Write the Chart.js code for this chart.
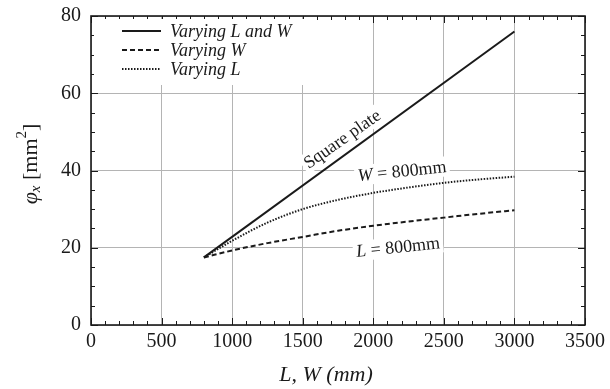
<!DOCTYPE html>
<html lang="en">
<head>
<meta charset="UTF-8">
<title>phi_x vs L, W</title>
<script src="https://cdn.jsdelivr.net/npm/chart.js"></script>
<style>
    * { margin: 0; padding: 0; box-sizing: border-box; }
    body { background: #fff; width: 610px; height: 389px; overflow: hidden; }
    .chart-box { position: relative; width: 610px; height: 389px; }
</style>
</head>
<body>
<div class="chart-box">
    <canvas id="phiChart" width="610" height="389"></canvas>
</div>
<script>
// data
const squareL = [800, 3000];
const squarePhi = [17.5, 76.0];

const sizes = [800, 1000, 1250, 1500, 1750, 2000, 2250, 2500, 2750, 3000];
const varyWPhi = [17.5, 19.3, 21.2, 22.8, 24.4, 25.7, 26.8, 27.8, 28.8, 29.7];
const varyLPhi = [17.5, 21.8, 26.5, 30.0, 32.4, 34.2, 35.6, 36.8, 37.7, 38.4];

const xTicks = [0, 500, 1000, 1500, 2000, 2500, 3000, 3500];
const yTicks = [0, 20, 40, 60, 80];

const legendLabels = ['Varying L and W', 'Varying W', 'Varying L'];

const SERIF = '"Liberation Serif", "DejaVu Serif", serif';
const INK = '#1a1a1a';

function pts(xs, ys) {
    return xs.map((x, i) => ({ x: x, y: ys[i] }));
}

// frame, minor ticks, legend, notes, axis titles
const decorations = {
    id: 'decorations',
    afterDraw(chart) {
        const ctx = chart.ctx;
        const a = chart.chartArea;
        const xs = chart.scales.x, ys = chart.scales.y;
        ctx.save();

        // ticks pointing inwards
        ctx.strokeStyle = INK;
        ctx.lineWidth = 1;
        ctx.beginPath();
        for (let v = 0; v <= 3500; v += 100) {
            const px = Math.round(xs.getPixelForValue(v)) + 0.5;
            const len = v % 500 === 0 ? 7 : 4;
            ctx.moveTo(px, a.bottom); ctx.lineTo(px, a.bottom - len);
            ctx.moveTo(px, a.top); ctx.lineTo(px, a.top + len);
        }
        for (let v = 0; v <= 80; v += 5) {
            const py = Math.round(ys.getPixelForValue(v)) + 0.5;
            const len = v % 20 === 0 ? 7 : 4;
            ctx.moveTo(a.left, py); ctx.lineTo(a.left + len, py);
            ctx.moveTo(a.right, py); ctx.lineTo(a.right - len, py);
        }
        ctx.stroke();

        // frame
        ctx.lineWidth = 1.6;
        ctx.strokeRect(a.left, a.top, a.right - a.left, a.bottom - a.top);

        // legend
        ctx.fillStyle = '#fff';
        ctx.fillRect(a.left + 3, a.top + 3, 212, 66);
        const dashes = [[], [5, 3], [1.5, 1.5]];
        ctx.font = 'italic 18px ' + SERIF;
        ctx.textBaseline = 'middle';
        legendLabels.forEach((txt, i) => {
            const y = a.top + 15 + i * 19;
            ctx.setLineDash(dashes[i]);
            ctx.lineWidth = 1.8;
            ctx.strokeStyle = INK;
            ctx.beginPath();
            ctx.moveTo(a.left + 31, y); ctx.lineTo(a.left + 70, y);
            ctx.stroke();
            ctx.fillStyle = INK;
            ctx.fillText(txt, a.left + 79, y + 1);
        });
        ctx.setLineDash([]);

        // notes on the curves
        function note(cx, cy, angle, pieces) {
            ctx.save();
            ctx.translate(cx, cy);
            ctx.rotate(angle * Math.PI / 180);
            let w = 0;
            pieces.forEach(p => { ctx.font = p[1] + ' 18px ' + SERIF; w += ctx.measureText(p[0]).width; });
            ctx.fillStyle = '#fff';
            ctx.fillRect(-w / 2 - 3, -10, w + 6, 20);
            let x = -w / 2;
            ctx.fillStyle = INK;
            ctx.textBaseline = 'middle';
            pieces.forEach(p => {
                ctx.font = p[1] + ' 18px ' + SERIF;
                ctx.fillText(p[0], x, 1);
                x += ctx.measureText(p[0]).width;
            });
            ctx.restore();
        }
        note(342, 139, -35, [['Square plate', 'normal']]);
        note(402, 171, -6, [['W', 'italic'], [' = 800mm', 'normal']]);
        note(398, 247, -6, [['L', 'italic'], [' = 800mm', 'normal']]);

        // x axis title
        ctx.fillStyle = INK;
        ctx.font = 'italic 22px ' + SERIF;
        ctx.textAlign = 'center';
        ctx.textBaseline = 'alphabetic';
        ctx.fillText('L, W (mm)', 326, 381);

        // y axis title with sub / superscript
        ctx.save();
        ctx.translate(31, 164);
        ctx.rotate(-Math.PI / 2);
        const parts = [
            ['\u03C6', 'italic 22px', 0],
            ['x', 'italic 15px', 5],
            [' [mm', 'normal 22px', 0],
            ['2', 'normal 15px', -9],
            [']', 'normal 22px', 0]
        ];
        let tw = 0;
        parts.forEach(p => { ctx.font = p[1] + ' ' + SERIF; tw += ctx.measureText(p[0]).width; });
        let x = -tw / 2;
        ctx.textAlign = 'left';
        ctx.textBaseline = 'middle';
        parts.forEach(p => {
            ctx.font = p[1] + ' ' + SERIF;
            ctx.fillText(p[0], x, p[2]);
            x += ctx.measureText(p[0]).width;
        });
        ctx.restore();

        ctx.restore();
    }
};

new Chart(document.getElementById('phiChart'), {
    type: 'line',
    data: {
        datasets: [
            {
                label: legendLabels[0],
                data: pts(squareL, squarePhi),
                borderColor: INK,
                borderWidth: 2,
                pointRadius: 0,
                tension: 0
            },
            {
                label: legendLabels[1],
                data: pts(sizes, varyWPhi),
                borderColor: INK,
                borderWidth: 2,
                borderDash: [5, 3],
                pointRadius: 0,
                cubicInterpolationMode: 'monotone'
            },
            {
                label: legendLabels[2],
                data: pts(sizes, varyLPhi),
                borderColor: INK,
                borderWidth: 2,
                borderDash: [1.5, 1.5],
                pointRadius: 0,
                cubicInterpolationMode: 'monotone'
            }
        ]
    },
    options: {
        responsive: false,
        animation: false,
        devicePixelRatio: 1,
        layout: { padding: { top: 16, right: 25, left: 0, bottom: 0 } },
        plugins: {
            legend: { display: false },
            tooltip: { enabled: false }
        },
        scales: {
            x: {
                type: 'linear',
                min: 0,
                max: 3500,
                afterBuildTicks: s => { s.ticks = xTicks.map(v => ({ value: v })); },
                afterFit: s => { s.height = 64; s.paddingLeft = 0; s.paddingRight = 0; },
                grid: { color: '#b4b4b4', lineWidth: 1, drawTicks: false },
                border: { display: false },
                ticks: {
                    color: INK,
                    padding: 5,
                    maxRotation: 0,
                    autoSkip: false,
                    callback: v => String(v),
                    font: { family: SERIF, size: 20 }
                }
            },
            y: {
                min: 0,
                max: 80,
                afterBuildTicks: s => { s.ticks = yTicks.map(v => ({ value: v })); },
                afterFit: s => { s.width = 91; s.paddingTop = 0; s.paddingBottom = 0; },
                grid: { color: '#b4b4b4', lineWidth: 1, drawTicks: false },
                border: { display: false },
                ticks: {
                    color: INK,
                    padding: 10,
                    autoSkip: false,
                    callback: v => String(v),
                    font: { family: SERIF, size: 20 }
                }
            }
        }
    },
    plugins: [decorations]
});
</script>
</body>
</html>
